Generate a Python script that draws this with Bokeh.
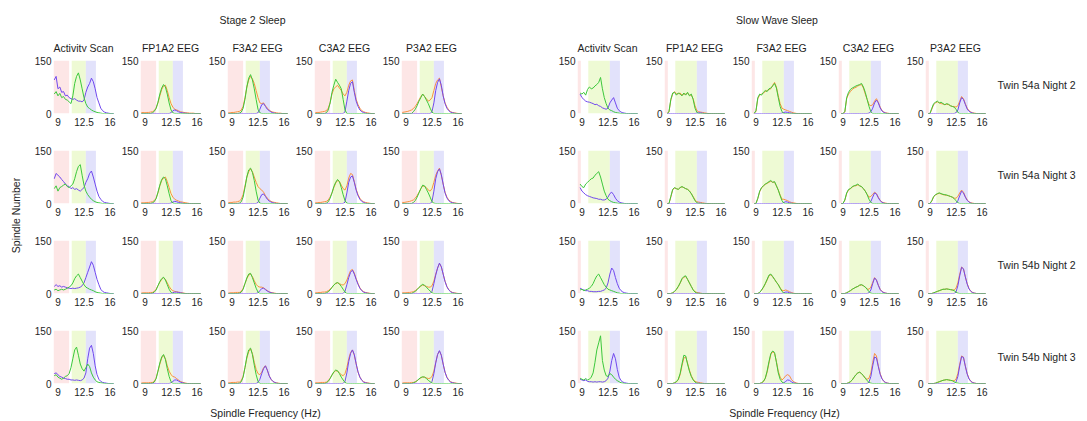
import numpy as np
from bokeh.plotting import figure
from bokeh.layouts import row, column
from bokeh.models import Range1d, BoxAnnotation, FixedTicker, Spacer, CustomJSTickFormatter
from bokeh.core.properties import value
from bokeh.embed import file_html
from bokeh.resources import INLINE

N = float("nan")

# ---------------- data ----------------
FREQ = [8.5, 8.75, 9.0, 9.25, 9.5, 9.75, 10.0, 10.25, 10.5, 10.75, 11.0, 11.25, 11.5, 11.75,
        12.0, 12.25, 12.5, 12.75, 13.0, 13.25, 13.5, 13.75, 14.0, 14.25, 14.5, 14.75,
        15.0, 15.25, 15.5, 15.75, 16.0, 16.25, 16.5]

GROUP_TITLES = ["Stage 2 Sleep", "Slow Wave Sleep"]
CHANNELS = ["Activity Scan", "FP1A2 EEG", "F3A2 EEG", "C3A2 EEG", "P3A2 EEG"]
ROW_LABELS = ["Twin 54a Night 2", "Twin 54a Night 3", "Twin 54b Night 2", "Twin 54b Night 3"]
X_LABEL = "Spindle Frequency (Hz)"
Y_LABEL = "Spindle Number"
X_TICKS = [9, 12.5, 16]
X_TICK_LABELS = ["9", "12.5", "16"]
Y_TICKS = [0, 150]
Y_TICK_LABELS = ["0", "150"]
X_RANGE = (8.4, 16.6)
Y_RANGE = (0, 150)
BANDS_S2 = [(8.4, 10.5), (10.85, 12.75), (12.75, 14.1)]
BANDS_SW = [(8.4, 8.85), (9.85, 12.75), (12.75, 14.1)]

# ---- Stage 2, Twin 54a Night 2
S2_A2_ACT_G = [55, 62, 50, 57, 45, 48, 40, 38, 33, 28, 50, 85, 105, 115, 95, 70, 45, 28, 18, 14, 10, 7, 5, 3, 2, 1, 0, 0, 0, 0, 0, 0, 0]
S2_A2_ACT_B = [95, 105, 70, 75, 60, 62, 50, 52, 45, 42, 40, 42, 38, 35, 35, 33, 38, 60, 75, 85, 100, 90, 70, 45, 30, 15, 8, 4, 2, 1, 0, 0, 0]
S2_A2_FP1_O = [2, 3, 2, 3, 3, 4, 5, 8, 15, 30, 50, 68, 78, 80, 65, 45, 28, 18, 12, 10, 8, 5, 4, 3, 2, 2, 1, 1, 1, 0, 0, 0, 0]
S2_A2_FP1_G = [0, 0, 0, 0, 0, 0, 2, 6, 15, 32, 55, 72, 82, 75, 55, 30, 10, 2, 0, 0, 0, 0, 0, 0, 0, 0, 0, 0, 0, 0, 0, 0, 0]
S2_A2_FP1_B = [0, 0, 0, 0, 0, 0, 0, 0, 0, 0, 0, 0, 0, 0, 0, 0, 2, 8, 10, 8, 5, 3, 2, 1, 1, 0, 0, 0, 0, 0, 0, 0, 0]
S2_A2_F3_O = [2, 2, 3, 3, 4, 5, 6, 10, 20, 45, 75, 95, 105, 98, 85, 65, 45, 30, 28, 30, 22, 15, 10, 6, 4, 3, 2, 1, 1, 0, 0, 0, 0]
S2_A2_F3_G = [0, 0, 0, 0, 0, 0, 1, 4, 15, 40, 75, 100, 110, 95, 70, 40, 12, 2, 0, 0, 0, 0, 0, 0, 0, 0, 0, 0, 0, 0, 0, 0, 0]
S2_A2_F3_B = [0, 0, 0, 0, 0, 0, 0, 0, 0, 0, 0, 0, 0, 0, 0, 0, 2, 12, 25, 28, 20, 12, 8, 4, 2, 1, 0, 0, 0, 0, 0, 0, 0]
S2_A2_C3_O = [2, 3, 3, 4, 5, 6, 8, 15, 30, 55, 70, 75, 80, 72, 65, 55, 50, 60, 80, 92, 95, 65, 40, 25, 15, 8, 5, 3, 2, 1, 0, 0, 0]
S2_A2_C3_G = [0, 0, 0, 0, 0, 0, 2, 10, 30, 60, 80, 97, 88, 80, 70, 40, 10, 0, 0, 0, 0, 0, 0, 0, 0, 0, 0, 0, 0, 0, 0, 0, 0]
S2_A2_C3_B = [0, 0, 0, 0, 0, 0, 0, 0, 0, 0, 0, 0, 0, 0, 0, 0, 5, 35, 65, 85, 90, 60, 35, 20, 10, 5, 3, 1, 0, 0, 0, 0, 0]
S2_A2_P3_O = [3, 4, 5, 6, 8, 10, 14, 20, 28, 38, 48, 55, 48, 42, 35, 38, 45, 65, 85, 95, 100, 75, 50, 30, 18, 10, 5, 3, 2, 1, 0, 0, 0]
S2_A2_P3_G = [0, 0, 0, 0, 0, 0, 5, 12, 22, 35, 45, 55, 48, 38, 28, 15, 4, 0, 0, 0, 0, 0, 0, 0, 0, 0, 0, 0, 0, 0, 0, 0, 0]
S2_A2_P3_B = [0, 0, 0, 0, 0, 0, 0, 0, 0, 0, 0, 0, 0, 0, 0, 0, 5, 30, 65, 88, 98, 80, 50, 28, 15, 8, 4, 2, 1, 0, 0, 0, 0]

# ---- Stage 2, Twin 54a Night 3
S2_A3_ACT_G = [42, 50, 35, 45, 48, 52, 55, 48, 45, 50, 55, 70, 90, 105, 110, 80, 52, 35, 25, 18, 12, 8, 5, 3, 2, 1, 0, 0, 0, 0, 0, 0, 0]
S2_A3_ACT_B = [70, 85, 80, 75, 68, 62, 55, 50, 48, 42, 45, 40, 42, 38, 35, 40, 45, 60, 70, 85, 92, 75, 55, 35, 20, 12, 6, 3, 2, 1, 0, 0, 0]
S2_A3_FP1_O = [2, 2, 2, 3, 3, 4, 5, 8, 15, 30, 50, 65, 72, 75, 62, 45, 28, 18, 12, 9, 7, 5, 4, 3, 2, 1, 0, 0, 0, 0, 0, 0, 0]
S2_A3_FP1_G = [0, 0, 0, 0, 0, 0, 2, 5, 14, 32, 52, 68, 75, 70, 50, 28, 8, 1, 0, 0, 0, 0, 0, 0, 0, 0, 0, 0, 0, 0, 0, 0, 0]
S2_A3_FP1_B = [0, 0, 0, 0, 0, 0, 0, 0, 0, 0, 0, 0, 0, 0, 0, 0, 1, 4, 6, 5, 3, 2, 1, 0, 0, 0, 0, 0, 0, 0, 0, 0, 0]
S2_A3_F3_O = [2, 3, 3, 4, 4, 5, 7, 12, 25, 50, 75, 90, 98, 90, 75, 60, 48, 42, 38, 32, 22, 15, 10, 6, 4, 3, 2, 1, 0, 0, 0, 0, 0]
S2_A3_F3_G = [0, 0, 0, 0, 0, 0, 1, 5, 18, 45, 75, 95, 100, 88, 65, 35, 10, 1, 0, 0, 0, 0, 0, 0, 0, 0, 0, 0, 0, 0, 0, 0, 0]
S2_A3_F3_B = [0, 0, 0, 0, 0, 0, 0, 0, 0, 0, 0, 0, 0, 0, 0, 0, 3, 15, 25, 27, 20, 12, 7, 4, 2, 1, 0, 0, 0, 0, 0, 0, 0]
S2_A3_C3_O = [2, 2, 3, 3, 4, 5, 6, 10, 18, 30, 45, 58, 65, 62, 52, 42, 38, 50, 72, 85, 82, 62, 40, 25, 15, 8, 5, 3, 2, 1, 0, 0, 0]
S2_A3_C3_G = [0, 0, 0, 0, 0, 0, 1, 5, 15, 30, 48, 60, 68, 62, 45, 25, 8, 1, 0, 0, 0, 0, 0, 0, 0, 0, 0, 0, 0, 0, 0, 0, 0]
S2_A3_C3_B = [0, 0, 0, 0, 0, 0, 0, 0, 0, 0, 0, 0, 0, 0, 0, 0, 4, 30, 60, 75, 78, 60, 38, 22, 12, 6, 3, 1, 0, 0, 0, 0, 0]
S2_A3_P3_O = [3, 3, 4, 5, 6, 8, 10, 15, 22, 32, 42, 50, 48, 45, 38, 35, 42, 60, 80, 92, 100, 80, 55, 32, 18, 10, 6, 3, 2, 1, 0, 0, 0]
S2_A3_P3_G = [0, 0, 0, 0, 0, 0, 3, 8, 18, 30, 42, 52, 50, 40, 30, 18, 5, 1, 0, 0, 0, 0, 0, 0, 0, 0, 0, 0, 0, 0, 0, 0, 0]
S2_A3_P3_B = [0, 0, 0, 0, 0, 0, 0, 0, 0, 0, 0, 0, 0, 0, 0, 0, 5, 35, 70, 90, 98, 82, 55, 30, 16, 8, 4, 2, 1, 0, 0, 0, 0]

# ---- Stage 2, Twin 54b Night 2
S2_B2_ACT_G = [10, 12, 8, 10, 12, 10, 12, 15, 18, 22, 30, 42, 50, 55, 45, 35, 25, 18, 15, 12, 10, 8, 5, 3, 2, 1, 0, 0, 0, 0, 0, 0, 0]
S2_B2_ACT_B = [20, 25, 20, 22, 18, 20, 18, 16, 15, 14, 15, 14, 15, 16, 18, 22, 30, 45, 60, 75, 90, 80, 60, 40, 25, 12, 6, 3, 2, 1, 0, 0, 0]
S2_B2_FP1_O = [1, 2, 2, 2, 2, 3, 3, 6, 12, 22, 32, 40, 45, 40, 30, 20, 12, 8, 6, 5, 4, 3, 2, 1, 0, 0, 0, 0, 0, 0, 0, 0, 0]
S2_B2_FP1_G = [0, 0, 0, 0, 0, 0, 1, 4, 10, 22, 34, 42, 46, 38, 25, 12, 3, 0, 0, 0, 0, 0, 0, 0, 0, 0, 0, 0, 0, 0, 0, 0, 0]
S2_B2_FP1_B = [0, 0, 0, 0, 0, 0, 0, 0, 0, 0, 0, 0, 0, 0, 0, 0, 0, 2, 4, 4, 3, 2, 1, 0, 0, 0, 0, 0, 0, 0, 0, 0, 0]
S2_B2_F3_O = [1, 2, 2, 2, 3, 3, 3, 6, 14, 28, 42, 52, 55, 48, 36, 26, 20, 18, 18, 16, 12, 8, 5, 3, 2, 1, 0, 0, 0, 0, 0, 0, 0]
S2_B2_F3_G = [0, 0, 0, 0, 0, 0, 1, 4, 12, 28, 44, 55, 57, 45, 30, 15, 4, 0, 0, 0, 0, 0, 0, 0, 0, 0, 0, 0, 0, 0, 0, 0, 0]
S2_B2_F3_B = [0, 0, 0, 0, 0, 0, 0, 0, 0, 0, 0, 0, 0, 0, 0, 0, 2, 8, 14, 15, 11, 7, 4, 2, 1, 0, 0, 0, 0, 0, 0, 0, 0]
S2_B2_C3_O = [2, 2, 3, 3, 4, 4, 5, 8, 12, 18, 24, 28, 30, 28, 25, 24, 28, 38, 52, 65, 68, 58, 42, 28, 16, 9, 5, 3, 2, 1, 0, 0, 0]
S2_B2_C3_G = [0, 0, 0, 0, 0, 0, 2, 5, 10, 17, 24, 29, 31, 27, 20, 12, 4, 0, 0, 0, 0, 0, 0, 0, 0, 0, 0, 0, 0, 0, 0, 0, 0]
S2_B2_C3_B = [0, 0, 0, 0, 0, 0, 0, 0, 0, 0, 0, 0, 0, 0, 0, 0, 6, 25, 45, 60, 66, 55, 40, 26, 15, 8, 4, 2, 1, 0, 0, 0, 0]
S2_B2_P3_O = [2, 2, 2, 3, 3, 4, 5, 8, 12, 17, 21, 24, 22, 20, 18, 18, 22, 35, 55, 72, 85, 75, 55, 35, 20, 11, 6, 3, 2, 1, 0, 0, 0]
S2_B2_P3_G = [0, 0, 0, 0, 0, 0, 3, 6, 11, 17, 22, 26, 23, 18, 12, 7, 2, 0, 0, 0, 0, 0, 0, 0, 0, 0, 0, 0, 0, 0, 0, 0, 0]
S2_B2_P3_B = [0, 0, 0, 0, 0, 0, 0, 0, 0, 0, 0, 0, 0, 0, 0, 0, 6, 28, 52, 72, 86, 76, 55, 34, 19, 10, 5, 2, 1, 0, 0, 0, 0]

# ---- Stage 2, Twin 54b Night 3
S2_B3_ACT_G = [22, 25, 18, 15, 12, 15, 20, 22, 28, 45, 70, 95, 103, 80, 55, 42, 35, 45, 55, 48, 30, 18, 10, 5, 3, 2, 1, 0, 0, 0, 0, 0, 0]
S2_B3_ACT_B = [28, 30, 25, 20, 18, 15, 14, 12, 12, 10, 10, 9, 10, 9, 8, 10, 15, 30, 70, 100, 108, 85, 50, 25, 12, 6, 3, 2, 1, 0, 0, 0, 0]
S2_B3_FP1_O = [1, 2, 2, 2, 2, 3, 3, 6, 15, 35, 55, 72, 80, 70, 50, 35, 25, 20, 18, 14, 10, 6, 4, 2, 1, 0, 0, 0, 0, 0, 0, 0, 0]
S2_B3_FP1_G = [0, 0, 0, 0, 0, 0, 1, 4, 14, 35, 58, 75, 82, 68, 42, 20, 5, 0, 0, 0, 0, 0, 0, 0, 0, 0, 0, 0, 0, 0, 0, 0, 0]
S2_B3_FP1_B = [0, 0, 0, 0, 0, 0, 0, 0, 0, 0, 0, 0, 0, 0, 0, 0, 2, 6, 10, 10, 7, 4, 2, 1, 0, 0, 0, 0, 0, 0, 0, 0, 0]
S2_B3_F3_O = [2, 2, 3, 3, 3, 4, 4, 8, 20, 45, 72, 90, 98, 85, 60, 40, 28, 25, 32, 45, 50, 38, 22, 12, 6, 3, 2, 1, 0, 0, 0, 0, 0]
S2_B3_F3_G = [0, 0, 0, 0, 0, 0, 1, 5, 18, 45, 75, 95, 100, 82, 52, 25, 6, 0, 0, 0, 0, 0, 0, 0, 0, 0, 0, 0, 0, 0, 0, 0, 0]
S2_B3_F3_B = [0, 0, 0, 0, 0, 0, 0, 0, 0, 0, 0, 0, 0, 0, 0, 0, 3, 12, 28, 42, 50, 38, 22, 12, 6, 3, 1, 0, 0, 0, 0, 0, 0]
S2_B3_C3_O = [2, 2, 2, 3, 3, 3, 4, 8, 15, 24, 32, 36, 35, 30, 25, 22, 28, 45, 70, 88, 95, 80, 55, 32, 18, 10, 5, 3, 2, 1, 0, 0, 0]
S2_B3_C3_G = [0, 0, 0, 0, 0, 0, 2, 6, 14, 24, 33, 38, 36, 28, 18, 10, 3, 0, 0, 0, 0, 0, 0, 0, 0, 0, 0, 0, 0, 0, 0, 0, 0]
S2_B3_C3_B = [0, 0, 0, 0, 0, 0, 0, 0, 0, 0, 0, 0, 0, 0, 0, 0, 6, 30, 62, 85, 95, 82, 56, 33, 18, 9, 4, 2, 1, 0, 0, 0, 0]
S2_B3_P3_O = [1, 2, 2, 2, 2, 3, 3, 5, 8, 12, 16, 18, 18, 16, 14, 15, 20, 35, 60, 82, 92, 80, 55, 32, 18, 10, 5, 3, 2, 1, 0, 0, 0]
S2_B3_P3_G = [0, 0, 0, 0, 0, 0, 2, 4, 8, 13, 17, 19, 18, 14, 9, 5, 1, 0, 0, 0, 0, 0, 0, 0, 0, 0, 0, 0, 0, 0, 0, 0, 0]
S2_B3_P3_B = [0, 0, 0, 0, 0, 0, 0, 0, 0, 0, 0, 0, 0, 0, 0, 0, 5, 28, 58, 82, 93, 80, 55, 32, 17, 9, 4, 2, 1, 0, 0, 0, 0]

# ---- Slow Wave Sleep, Twin 54a Night 2
SW_A2_ACT_G = [N, 58, 55, 60, 52, 68, 75, 70, 72, 78, 82, 88, 102, 70, 45, 28, 15, 10, 8, 5, 3, 2, 1, 0, 0, 0, 0, 0, 0, 0, 0, 0, 0]
SW_A2_ACT_B = [N, 55, 45, 40, 35, 33, 32, 30, 28, 25, 26, 22, 20, 16, 14, 12, 15, 30, 38, 45, 30, 15, 8, 4, 2, 1, 0, 0, 0, 0, 0, 0, 0]
SW_A2_FP1_O = [N, 0, 4, 38, 55, 62, 55, 56, 58, 52, 55, 55, 57, 52, 52, 42, 22, 8, 5, 4, 3, 2, 1, 0, 0, 0, 0, 0, 0, 0, 0, 0, 0]
SW_A2_FP1_G = [N, 0, 5, 40, 58, 60, 52, 58, 55, 50, 58, 52, 60, 50, 55, 40, 15, 3, 0, 0, 0, 0, 0, 0, 0, 0, 0, 0, 0, 0, 0, 0, 0]
SW_A2_FP1_B = [N, 0, 0, 0, 0, 0, 0, 0, 0, 0, 0, 0, 0, 0, 0, 0, 0, 1, 2, 2, 1, 0, 0, 0, 0, 0, 0, 0, 0, 0, 0, 0, 0]
SW_A2_F3_O = [N, 0, 6, 42, 52, 55, 58, 62, 65, 68, 70, 80, 88, 75, 50, 28, 15, 12, 10, 8, 6, 4, 2, 1, 0, 0, 0, 0, 0, 0, 0, 0, 0]
SW_A2_F3_G = [N, 0, 8, 45, 55, 52, 60, 65, 62, 70, 72, 78, 85, 72, 45, 20, 5, 0, 0, 0, 0, 0, 0, 0, 0, 0, 0, 0, 0, 0, 0, 0, 0]
SW_A2_F3_B = [N, 0, 0, 0, 0, 0, 0, 0, 0, 0, 0, 0, 0, 0, 0, 0, 1, 3, 4, 3, 2, 1, 0, 0, 0, 0, 0, 0, 0, 0, 0, 0, 0]
SW_A2_C3_O = [N, 0, 0, 4, 42, 55, 62, 68, 72, 74, 78, 80, 82, 72, 55, 40, 25, 22, 25, 35, 42, 32, 18, 8, 4, 2, 1, 0, 0, 0, 0, 0, 0]
SW_A2_C3_G = [N, 0, 0, 5, 45, 60, 68, 72, 75, 78, 80, 82, 85, 75, 60, 40, 20, 5, 0, 0, 0, 0, 0, 0, 0, 0, 0, 0, 0, 0, 0, 0, 0]
SW_A2_C3_B = [N, 0, 0, 0, 0, 0, 0, 0, 0, 0, 0, 0, 0, 0, 0, 0, 1, 5, 15, 30, 38, 30, 16, 7, 3, 1, 0, 0, 0, 0, 0, 0, 0]
SW_A2_P3_O = [N, 0, 0, 12, 25, 30, 33, 30, 28, 27, 25, 26, 25, 22, 20, 20, 18, 22, 35, 48, 42, 28, 15, 8, 4, 2, 1, 0, 0, 0, 0, 0, 0]
SW_A2_P3_G = [N, 0, 0, 15, 28, 32, 35, 30, 32, 28, 25, 28, 26, 22, 20, 18, 12, 3, 0, 0, 0, 0, 0, 0, 0, 0, 0, 0, 0, 0, 0, 0, 0]
SW_A2_P3_B = [N, 0, 0, 0, 0, 0, 0, 0, 0, 0, 0, 0, 0, 0, 0, 0, 2, 10, 30, 45, 40, 26, 13, 6, 3, 1, 0, 0, 0, 0, 0, 0, 0]

# ---- Slow Wave Sleep, Twin 54a Night 3
SW_A3_ACT_G = [N, 55, 48, 45, 55, 60, 65, 70, 72, 80, 85, 90, 75, 55, 35, 22, 12, 8, 5, 3, 2, 1, 0, 0, 0, 0, 0, 0, 0, 0, 0, 0, 0]
SW_A3_ACT_B = [N, 45, 35, 30, 25, 22, 20, 18, 16, 15, 14, 12, 12, 10, 10, 12, 18, 28, 32, 25, 15, 8, 4, 2, 1, 0, 0, 0, 0, 0, 0, 0, 0]
SW_A3_FP1_O = [N, 0, 0, 18, 38, 44, 42, 40, 45, 47, 45, 42, 40, 36, 28, 20, 10, 5, 4, 3, 2, 1, 0, 0, 0, 0, 0, 0, 0, 0, 0, 0, 0]
SW_A3_FP1_G = [N, 0, 0, 20, 40, 45, 42, 40, 45, 48, 45, 42, 40, 35, 28, 18, 8, 2, 0, 0, 0, 0, 0, 0, 0, 0, 0, 0, 0, 0, 0, 0, 0]
SW_A3_FP1_B = [N, 0, 0, 0, 0, 0, 0, 0, 0, 0, 0, 0, 0, 0, 0, 0, 0, 0, 1, 1, 0, 0, 0, 0, 0, 0, 0, 0, 0, 0, 0, 0, 0]
SW_A3_F3_O = [N, 0, 0, 14, 33, 44, 50, 54, 57, 60, 63, 60, 60, 50, 38, 24, 12, 12, 10, 8, 5, 3, 2, 1, 0, 0, 0, 0, 0, 0, 0, 0, 0]
SW_A3_F3_G = [N, 0, 0, 15, 35, 45, 50, 55, 58, 62, 65, 60, 62, 50, 38, 22, 8, 1, 0, 0, 0, 0, 0, 0, 0, 0, 0, 0, 0, 0, 0, 0, 0]
SW_A3_F3_B = [N, 0, 0, 0, 0, 0, 0, 0, 0, 0, 0, 0, 0, 0, 0, 0, 0, 3, 5, 4, 2, 1, 0, 0, 0, 0, 0, 0, 0, 0, 0, 0, 0]
SW_A3_C3_O = [N, 0, 0, 9, 28, 38, 42, 46, 50, 50, 53, 50, 47, 42, 35, 26, 18, 20, 26, 32, 28, 18, 9, 4, 2, 1, 0, 0, 0, 0, 0, 0, 0]
SW_A3_C3_G = [N, 0, 0, 10, 30, 40, 42, 48, 50, 52, 55, 50, 48, 42, 35, 25, 12, 3, 0, 0, 0, 0, 0, 0, 0, 0, 0, 0, 0, 0, 0, 0, 0]
SW_A3_C3_B = [N, 0, 0, 0, 0, 0, 0, 0, 0, 0, 0, 0, 0, 0, 0, 0, 0, 6, 18, 30, 27, 16, 8, 3, 1, 0, 0, 0, 0, 0, 0, 0, 0]
SW_A3_P3_O = [N, 0, 0, 7, 19, 24, 27, 29, 27, 25, 24, 23, 22, 20, 18, 15, 15, 20, 30, 38, 32, 20, 10, 5, 2, 1, 0, 0, 0, 0, 0, 0, 0]
SW_A3_P3_G = [N, 0, 0, 8, 20, 25, 28, 30, 28, 26, 25, 24, 22, 20, 18, 14, 8, 2, 0, 0, 0, 0, 0, 0, 0, 0, 0, 0, 0, 0, 0, 0, 0]
SW_A3_P3_B = [N, 0, 0, 0, 0, 0, 0, 0, 0, 0, 0, 0, 0, 0, 0, 0, 0, 8, 22, 35, 30, 18, 9, 4, 1, 0, 0, 0, 0, 0, 0, 0, 0]

# ---- Slow Wave Sleep, Twin 54b Night 2
SW_B2_ACT_G = [N, 10, 12, 8, 10, 12, 15, 20, 28, 40, 50, 55, 45, 35, 25, 18, 12, 10, 8, 6, 4, 2, 1, 0, 0, 0, 0, 0, 0, 0, 0, 0, 0]
SW_B2_ACT_B = [N, 15, 12, 10, 8, 8, 6, 6, 5, 5, 5, 6, 6, 8, 10, 15, 30, 55, 72, 65, 45, 28, 15, 8, 4, 2, 1, 0, 0, 0, 0, 0, 0]
SW_B2_FP1_O = [N, 0, 0, 0, 2, 5, 11, 19, 29, 40, 46, 48, 40, 30, 20, 11, 5, 3, 2, 1, 0, 0, 0, 0, 0, 0, 0, 0, 0, 0, 0, 0, 0]
SW_B2_FP1_G = [N, 0, 0, 0, 2, 6, 12, 20, 30, 42, 48, 50, 40, 30, 20, 10, 4, 1, 0, 0, 0, 0, 0, 0, 0, 0, 0, 0, 0, 0, 0, 0, 0]
SW_B2_FP1_B = [N, 0, 0, 0, 0, 0, 0, 0, 0, 0, 0, 0, 0, 0, 0, 0, 0, 0, 1, 0, 0, 0, 0, 0, 0, 0, 0, 0, 0, 0, 0, 0, 0]
SW_B2_F3_O = [N, 0, 0, 0, 3, 9, 17, 27, 38, 50, 53, 47, 40, 32, 25, 16, 9, 8, 10, 8, 5, 3, 1, 0, 0, 0, 0, 0, 0, 0, 0, 0, 0]
SW_B2_F3_G = [N, 0, 0, 0, 3, 10, 18, 28, 40, 52, 55, 48, 40, 32, 25, 15, 6, 1, 0, 0, 0, 0, 0, 0, 0, 0, 0, 0, 0, 0, 0, 0, 0]
SW_B2_F3_B = [N, 0, 0, 0, 0, 0, 0, 0, 0, 0, 0, 0, 0, 0, 0, 0, 0, 2, 4, 4, 2, 1, 0, 0, 0, 0, 0, 0, 0, 0, 0, 0, 0]
SW_B2_C3_O = [N, 0, 0, 0, 2, 5, 8, 12, 15, 18, 20, 23, 24, 22, 18, 13, 12, 18, 32, 45, 38, 24, 12, 6, 3, 1, 0, 0, 0, 0, 0, 0, 0]
SW_B2_C3_G = [N, 0, 0, 0, 2, 5, 8, 12, 15, 18, 20, 24, 25, 22, 18, 12, 5, 1, 0, 0, 0, 0, 0, 0, 0, 0, 0, 0, 0, 0, 0, 0, 0]
SW_B2_C3_B = [N, 0, 0, 0, 0, 0, 0, 0, 0, 0, 0, 0, 0, 0, 0, 0, 2, 10, 28, 44, 38, 23, 11, 5, 2, 1, 0, 0, 0, 0, 0, 0, 0]
SW_B2_P3_O = [N, 0, 0, 0, 2, 4, 6, 8, 10, 12, 12, 13, 12, 11, 10, 10, 15, 30, 55, 75, 70, 48, 28, 14, 6, 3, 1, 0, 0, 0, 0, 0, 0]
SW_B2_P3_G = [N, 0, 0, 0, 2, 4, 6, 8, 10, 12, 12, 13, 12, 11, 10, 8, 4, 1, 0, 0, 0, 0, 0, 0, 0, 0, 0, 0, 0, 0, 0, 0, 0]
SW_B2_P3_B = [N, 0, 0, 0, 0, 0, 0, 0, 0, 0, 0, 0, 0, 0, 0, 0, 4, 22, 50, 74, 70, 47, 27, 13, 6, 2, 1, 0, 0, 0, 0, 0, 0]

# ---- Slow Wave Sleep, Twin 54b Night 3
SW_B3_ACT_G = [N, 15, 12, 10, 14, 10, 12, 18, 30, 60, 95, 115, 135, 65, 38, 22, 20, 28, 25, 18, 12, 8, 5, 2, 1, 0, 0, 0, 0, 0, 0, 0, 0]
SW_B3_ACT_B = [N, 12, 10, 8, 10, 6, 5, 5, 4, 5, 4, 5, 5, 4, 5, 8, 15, 35, 65, 85, 70, 40, 18, 8, 4, 2, 1, 0, 0, 0, 0, 0, 0]
SW_B3_FP1_O = [N, 0, 0, 0, 0, 2, 5, 10, 25, 50, 72, 75, 58, 38, 22, 12, 6, 4, 3, 2, 1, 0, 0, 0, 0, 0, 0, 0, 0, 0, 0, 0, 0]
SW_B3_FP1_G = [N, 0, 0, 0, 0, 2, 5, 12, 28, 55, 80, 78, 55, 35, 20, 10, 4, 1, 0, 0, 0, 0, 0, 0, 0, 0, 0, 0, 0, 0, 0, 0, 0]
SW_B3_FP1_B = [N, 0, 0, 0, 0, 0, 0, 0, 0, 0, 0, 0, 0, 0, 0, 0, 0, 0, 1, 0, 0, 0, 0, 0, 0, 0, 0, 0, 0, 0, 0, 0, 0]
SW_B3_F3_O = [N, 0, 0, 0, 0, 2, 5, 14, 32, 58, 82, 90, 85, 62, 35, 18, 10, 15, 22, 25, 22, 12, 6, 3, 1, 0, 0, 0, 0, 0, 0, 0, 0]
SW_B3_F3_G = [N, 0, 0, 0, 0, 2, 6, 15, 35, 62, 85, 92, 88, 60, 30, 12, 4, 1, 0, 0, 0, 0, 0, 0, 0, 0, 0, 0, 0, 0, 0, 0, 0]
SW_B3_F3_B = [N, 0, 0, 0, 0, 0, 0, 0, 0, 0, 0, 0, 0, 0, 0, 0, 0, 2, 6, 10, 9, 5, 2, 1, 0, 0, 0, 0, 0, 0, 0, 0, 0]
SW_B3_C3_O = [N, 0, 0, 0, 0, 2, 5, 10, 18, 25, 30, 32, 28, 22, 15, 12, 15, 30, 60, 85, 78, 50, 28, 14, 6, 3, 1, 0, 0, 0, 0, 0, 0]
SW_B3_C3_G = [N, 0, 0, 0, 0, 2, 5, 10, 18, 25, 30, 32, 28, 22, 15, 8, 3, 1, 0, 0, 0, 0, 0, 0, 0, 0, 0, 0, 0, 0, 0, 0, 0]
SW_B3_C3_B = [N, 0, 0, 0, 0, 0, 0, 0, 0, 0, 0, 0, 0, 0, 0, 0, 4, 20, 50, 75, 72, 48, 26, 13, 6, 2, 1, 0, 0, 0, 0, 0, 0]
SW_B3_P3_O = [N, 0, 0, 0, 0, 1, 3, 5, 7, 9, 10, 11, 10, 9, 8, 8, 12, 28, 55, 78, 75, 50, 28, 14, 6, 3, 1, 0, 0, 0, 0, 0, 0]
SW_B3_P3_G = [N, 0, 0, 0, 0, 1, 3, 5, 7, 9, 10, 11, 10, 9, 8, 5, 2, 1, 0, 0, 0, 0, 0, 0, 0, 0, 0, 0, 0, 0, 0, 0, 0]
SW_B3_P3_B = [N, 0, 0, 0, 0, 0, 0, 0, 0, 0, 0, 0, 0, 0, 0, 0, 4, 20, 50, 76, 74, 49, 27, 13, 6, 2, 1, 0, 0, 0, 0, 0, 0]

# table built from the named arrays: (group, row, channel, series)
G_ = globals()
GROUP_KEYS = ["S2", "SW"]
ROW_KEYS = ["A2", "A3", "B2", "B3"]
CH_KEYS = ["ACT", "FP1", "F3", "C3", "P3"]
def series(g, r, c, s):
    return G_.get("%s_%s_%s_%s" % (g, r, c, s))

# ---------------- style ----------------
FONT = "Liberation Sans"
TEXT = "#1e1e1e"
GREEN = "#3cc83c"
ORANGE = "#f8913f"
BLUE = "#7048ee"
BAND_COLORS = ["#fde6e6", "#eefad4", "#e2e2fb"]

PANEL_W = 87
BL, BR, BT = 22, 4, 8

tick_fmt_x = CustomJSTickFormatter(args=dict(t=X_TICKS, l=X_TICK_LABELS),
                                   code="const i = t.indexOf(tick); return i >= 0 ? l[i] : '';")
tick_fmt_y = CustomJSTickFormatter(args=dict(t=Y_TICKS, l=Y_TICK_LABELS),
                                   code="const i = t.indexOf(tick); return i >= 0 ? l[i] : '';")

def panel(gi, ri, ci, last):
    h = 83 if last else 90
    bb = h - BT - 53
    p = figure(width=PANEL_W, height=h,
               x_range=Range1d(*X_RANGE), y_range=Range1d(*Y_RANGE),
               output_backend="svg", toolbar_location=None,
               min_border_left=BL, min_border_right=BR, min_border_top=BT, min_border_bottom=bb)
    p.grid.visible = False
    p.outline_line_color = None
    for ax in (p.xaxis[0], p.yaxis[0]):
        ax.axis_line_color = None
        ax.major_tick_line_color = None
        ax.minor_tick_line_color = None
        ax.major_tick_in = 0
        ax.major_tick_out = 0
        ax.minor_tick_in = 0
        ax.minor_tick_out = 0
        ax.major_label_text_font = FONT
        ax.major_label_text_font_size = "10px"
        ax.major_label_text_color = TEXT
    p.xaxis.ticker = FixedTicker(ticks=X_TICKS)
    p.yaxis.ticker = FixedTicker(ticks=Y_TICKS)
    p.xaxis.formatter = tick_fmt_x
    p.yaxis.formatter = tick_fmt_y
    p.xaxis.major_label_standoff = 4
    p.yaxis.major_label_standoff = 2
    bands = BANDS_S2 if gi == 0 else BANDS_SW
    for (a, b), col in zip(bands, BAND_COLORS):
        p.add_layout(BoxAnnotation(left=a, right=b, fill_color=col, fill_alpha=1.0,
                                   line_color=None, level="underlay"))
    g, r, c = GROUP_KEYS[gi], ROW_KEYS[ri], CH_KEYS[ci]
    order = [("O", ORANGE), ("B", BLUE), ("G", GREEN)]
    for s, colr in order:
        y = series(g, r, c, s)
        if y is None:
            continue
        y = np.array(y, dtype=float)
        x = np.array(FREQ[:len(y)], dtype=float)
        p.line(x, y, line_color=colr, line_width=1.0)
    return p

def text_fig(w, h, items):
    f = figure(width=w, height=h, x_range=Range1d(0, w), y_range=Range1d(h, 0),
               x_axis_type=None, y_axis_type=None, output_backend="svg",
               toolbar_location=None, min_border=0)
    f.outline_line_color = None
    f.grid.visible = False
    for (x, y, t, ang, align, size) in items:
        f.text(x=[x], y=[y], text=[t], angle=ang, text_align=align, text_baseline="middle",
               text_font=value(FONT), text_font_size=size, text_color=TEXT)
    return f

# page has no margin: layout coordinates == picture coordinates
TOTAL_W = 1085
S2_FRAME_LEFT = [53, 140, 227, 314, 401]
SW_FRAME_LEFT = [577, 664, 751, 838, 925]

head_items = [(252, 19, GROUP_TITLES[0], 0, "center", "10.5px"),
              (776.5, 19, GROUP_TITLES[1], 0, "center", "10.5px")]
for lefts in (S2_FRAME_LEFT, SW_FRAME_LEFT):
    for fl, ch in zip(lefts, CHANNELS):
        head_items.append((fl + 30, 47, ch, 0, "center", "10.5px"))
header = text_fig(TOTAL_W, 52, head_items)

rows = []
for ri in range(4):
    last = ri == 3
    h = 83 if last else 90
    items = [panel(0, ri, ci, last) for ci in range(5)]
    items.append(Spacer(width=89, height=h))
    items += [panel(1, ri, ci, last) for ci in range(5)]
    items.append(text_fig(95, h, [(7, 41, ROW_LABELS[ri], 0, "left", "10.5px")]))
    rows.append(row(*items))

ylab = text_fig(31, 353, [(15, 163, Y_LABEL, np.pi / 2, "center", "10.5px")])
mid = row(ylab, column(*rows))
footer = text_fig(TOTAL_W, 14, [(265, 7, X_LABEL, 0, "center", "10.5px"),
                                (784, 7, X_LABEL, 0, "center", "10.5px")])
layout = column(header, mid, footer)

open("out.html", "w").write(file_html(layout, INLINE))
